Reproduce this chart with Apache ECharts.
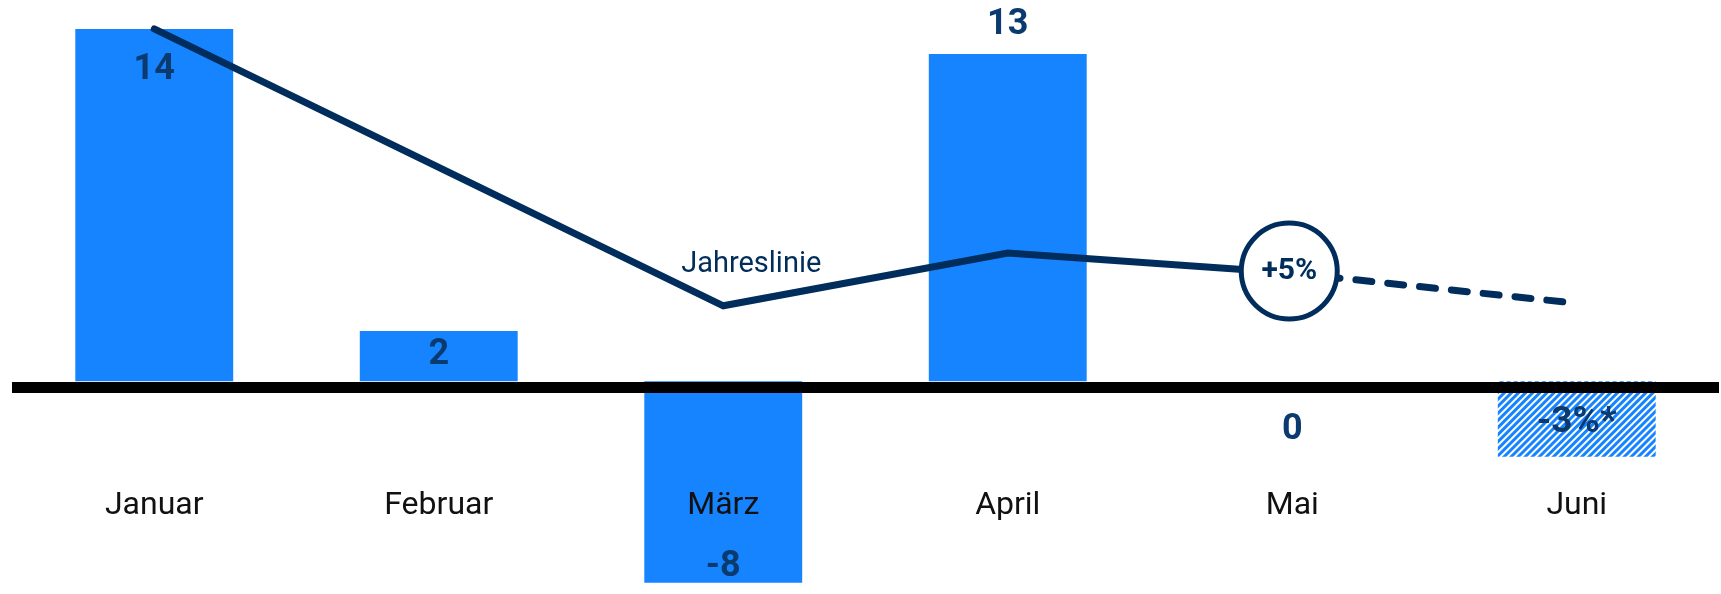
<!DOCTYPE html>
<html>
<head>
<meta charset="utf-8">
<script src="https://cdn.jsdelivr.net/npm/echarts@6/dist/echarts.min.js"></script>
<style>
  html, body { margin: 0; padding: 0; background: #ffffff; }
  #chart { width: 1721px; height: 594px; }
</style>
</head>
<body>
<div id="chart"></div>
<script>
// ---- data ----
const categories = ['Januar', 'Februar', 'März', 'April', 'Mai', 'Juni'];
const barValues = [14, 2, -8, 13, 0, -3];
const barLabels = ['14', '2', '-8', '13', '0', '-3%*'];
const forecastBarIndex = 5;
const lineName = 'Jahreslinie';
const lineValues = [14, 8.5, 3, 5.1, 4.3, null];
const forecastLineValues = [null, null, null, null, 4.3, 3.1];
const badgeValues = [null, null, null, null, 4.3, null];
const badgeText = '+5%';
const lineLabelIndex = 2;

// ---- styles ----
const BAR_BLUE = '#1784FF';
const NAVY = '#002D5C';
const LABEL_NAVY = '#0B3A6E';
const FONT = 'Roboto, "Noto Sans", sans-serif';

const barLabelStyles = [
  { position: 'insideTop', distance: 23 },
  { position: 'insideTop', distance: 6 },
  { position: 'inside', offset: [0, 85] },
  { position: 'top', distance: 11 },
  { position: 'inside', offset: [0, 49] },
  { position: 'inside', offset: [0, 4], fontSize: 37 }
];

const barData = barValues.map((v, i) => {
  const item = {
    value: v,
    label: Object.assign({ formatter: barLabels[i] }, barLabelStyles[i])
  };
  if (i === forecastBarIndex) {
    item.itemStyle = {
      color: '#ffffff',
      decal: {
        symbol: 'rect',
        symbolSize: 1,
        color: BAR_BLUE,
        dashArrayX: [1, 0],
        dashArrayY: [2.5, 1.8],
        rotation: -Math.PI / 4
      }
    };
  }
  return item;
});

const lineData = lineValues.map((v, i) => {
  if (i === lineLabelIndex) {
    return {
      value: v,
      label: {
        show: true,
        formatter: '{a}',
        position: 'top',
        offset: [28, -22],
        fontFamily: FONT,
        fontSize: 29,
        lineHeight: 29,
        color: NAVY
      }
    };
  }
  return v;
});

const chart = echarts.init(document.getElementById('chart'), null, { renderer: 'canvas' });
chart.setOption({
  animation: false,
  backgroundColor: '#ffffff',
  grid: { left: 12, right: 2, top: 0, bottom: 0, containLabel: false, outerBoundsMode: 'none' },
  xAxis: {
    type: 'category',
    data: categories,
    position: 'bottom',
    z: 10,
    axisLine: { show: false, onZero: false },
    axisTick: { show: false },
    axisLabel: {
      margin: -104,
      fontFamily: FONT,
      fontSize: 32,
      lineHeight: 32,
      color: '#111111',
      verticalAlign: 'top'
    },
    splitLine: { show: false }
  },
  yAxis: {
    type: 'value',
    min: -8.45,
    max: 15.15,
    show: false,
    splitLine: { show: false }
  },
  series: [
    {
      type: 'bar',
      data: barData,
      barWidth: '55.5%',
      itemStyle: { color: BAR_BLUE },
      label: {
        show: true,
        fontFamily: FONT,
        fontSize: 36,
        lineHeight: 36,
        fontWeight: 'bold',
        color: LABEL_NAVY
      },
      z: 2,
      markLine: {
        silent: true,
        symbol: ['none', 'none'],
        label: { show: false },
        lineStyle: { color: '#000000', width: 11, type: 'solid' },
        data: [{ yAxis: -0.22 }],
        z: 6
      }
    },
    {
      type: 'line',
      name: lineName,
      data: lineData,
      showSymbol: true,
      symbol: 'circle',
      symbolSize: 0.1,
      itemStyle: { color: NAVY },
      lineStyle: { color: NAVY, width: 7, cap: 'round', join: 'miter' },
      label: { show: false },
      z: 3
    },
    {
      type: 'line',
      name: 'forecast',
      data: forecastLineValues,
      showSymbol: false,
      lineStyle: { color: NAVY, width: 7, type: [16, 16], cap: 'round' },
      z: 3
    },
    {
      type: 'scatter',
      data: badgeValues,
      symbol: 'circle',
      symbolSize: 96,
      symbolOffset: [-3, -2],
      itemStyle: { color: '#ffffff', borderColor: NAVY, borderWidth: 5, opacity: 1 },
      label: {
        show: true,
        position: 'inside',
        formatter: badgeText,
        fontFamily: FONT,
        fontSize: 30,
        fontWeight: 'bold',
        color: NAVY
      },
      z: 5
    }
  ]
});
</script>
</body>
</html>
